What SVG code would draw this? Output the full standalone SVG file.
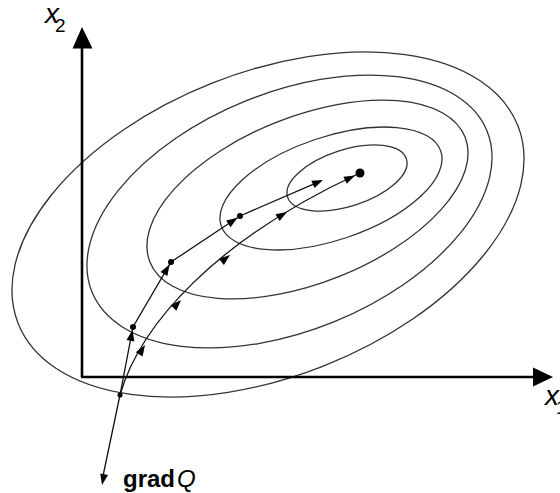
<svg xmlns="http://www.w3.org/2000/svg" xmlns:xlink="http://www.w3.org/1999/xlink" width="560" height="493" viewBox="0 0 560 493">
<style>
.contour{fill:none;stroke:#333;stroke-width:1.3}
.axis{stroke:#000;stroke-width:2.6;fill:none}
.step{fill:none;stroke:#111;stroke-width:1.3}
.dot{fill:#000}
.lbl{font-family:"Liberation Sans",Arial,sans-serif;fill:#000}
</style>
<defs>
<path id="ah" d="M0,0 L-11,-4 L-11,4 Z" fill="#000"/>
</defs>
<rect width="560" height="493" fill="#fff"/>
<g id="contours">
<ellipse class="contour" cx="268" cy="224.5" rx="268.7" ry="152" transform="rotate(-21.6 268 224.5)"/>
<ellipse class="contour" cx="289.5" cy="211.5" rx="213.3" ry="118.9" transform="rotate(-22.2 289.5 211.5)"/>
<ellipse class="contour" cx="307.5" cy="199.5" rx="169.5" ry="83.3" transform="rotate(-21.6 307.5 199.5)"/>
<ellipse class="contour" cx="331" cy="188.5" rx="116" ry="51.5" transform="rotate(-18.8 331 188.5)"/>
<ellipse class="contour" cx="347" cy="178" rx="62.4" ry="28.3" transform="rotate(-17.8 347 178)"/>
</g>
<g id="axes">
<line class="axis" x1="82" y1="377" x2="82" y2="46"/>
<polygon points="82,27 72.5,48.5 92.5,48.5" fill="#000"/>
<line class="axis" x1="81" y1="377" x2="535" y2="377"/>
<polygon points="553,377 533,367.5 533,386.5" fill="#000"/>
</g>
<g id="connectors">
<path id="pathA" class="step" d="M120,395 L133,327 L171,262 L240,216 L321,180.8"/>
<path id="pathB" class="step" d="M120,395 C140,325 215,240 360,173"/>
<line id="grad" class="step" x1="120" y1="395" x2="103" y2="476"/>
<use xlink:href="#ah" transform="translate(132.5,330) rotate(-79)"/>
<use xlink:href="#ah" transform="translate(169.5,264.5) rotate(-59.7)"/>
<use xlink:href="#ah" transform="translate(237.5,217.7) rotate(-33.7)"/>
<use xlink:href="#ah" transform="translate(323,180) rotate(-23.7)"/>
<use xlink:href="#ah" transform="translate(145,345) rotate(-58)"/>
<use xlink:href="#ah" transform="translate(181,300) rotate(-47)"/>
<use xlink:href="#ah" transform="translate(230,255) rotate(-38.5)"/>
<use xlink:href="#ah" transform="translate(287,212) rotate(-31)"/>
<use xlink:href="#ah" transform="translate(355,175.5) rotate(-25.5)"/>
<use xlink:href="#ah" transform="translate(102,485) rotate(101.3)"/>
</g>
<g id="points">
<circle class="dot" cx="120" cy="395" r="2.5"/>
<circle class="dot" cx="133" cy="327" r="3"/>
<circle class="dot" cx="171" cy="262" r="3"/>
<circle class="dot" cx="240" cy="216" r="3"/>
<circle class="dot" cx="360" cy="173" r="4.5"/>
</g>
<g id="labels">
<text class="lbl" x="45" y="23" font-size="28" font-style="italic">x</text>
<text class="lbl" x="55" y="32" font-size="19">2</text>
<text class="lbl" x="545" y="405" font-size="28" font-style="italic">x</text>
<text class="lbl" x="556" y="414" font-size="19">1</text>
<text class="lbl" x="123" y="487" font-size="24"><tspan font-weight="bold">grad</tspan><tspan font-style="italic" dx="2">Q</tspan></text>
</g>
</svg>
